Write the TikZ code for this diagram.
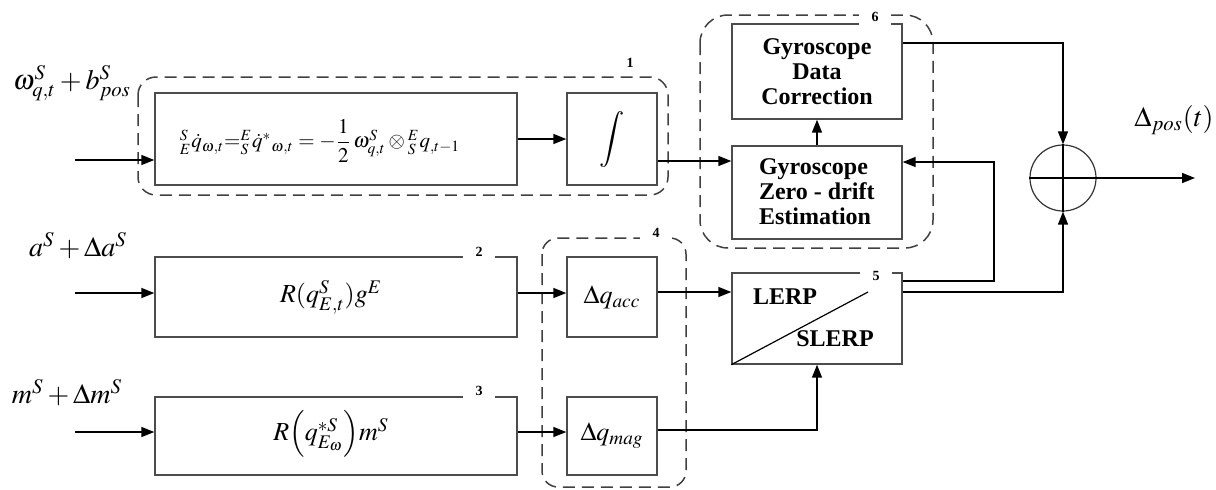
\documentclass[tikz,border=0pt]{standalone}
\usepackage{amsmath}
\usepackage{mathptmx}
\usepackage[no-math]{fontspec}
\setmainfont{Liberation Serif}
\usetikzlibrary{arrows.meta,calc}
\begin{document}
\begin{tikzpicture}[x=0.5pt,y=-0.5pt,
 blk/.style={draw=black!70, line width=0.7pt, rectangle, inner sep=0pt},
 grp/.style={draw=black!75, line width=0.75pt, dash pattern=on 6pt off 3.5pt},
 arr/.style={line width=0.75pt, -{Triangle[length=6.5pt,width=5pt]}},
 ln/.style={line width=0.6pt},
 tagw/.style={font=\bfseries\fontsize{7}{8}\selectfont, fill=white, inner sep=0pt, minimum width=16pt, minimum height=9pt},
 tagn/.style={font=\bfseries\fontsize{7}{8}\selectfont, inner sep=0pt},
 bt/.style={font=\bfseries\fontsize{12}{12.5}\selectfont},
 mt/.style={font=\fontsize{13}{15}\selectfont, inner sep=0pt},
 lt/.style={font=\fontsize{14}{16}\selectfont, inner sep=0pt}]
\useasboundingbox (0,0) rectangle (1216,489);

% dashed groups
\draw[grp, rounded corners=9pt] (138,77) rectangle (668,195);
\draw[grp, rounded corners=14pt] (700,15) rectangle (933,248);
\draw[grp, rounded corners=8pt] (542,238) rectangle (686,487);

% blocks
\node[blk, minimum width=181pt, minimum height=46pt] (f) at (336,139) {};
\node[mt, font=\fontsize{10.5}{12}\selectfont] (ftxt) at (320,141)
 {${}^{S}_{E}\dot q_{\omega,t}{=}{}^{E}_{S}\dot q^{*}{}_{\omega,t}=-\dfrac{1}{2}\,\omega^{S}_{q,t}\otimes{}^{E}_{S}q_{,t-1}$};
\node[blk, minimum width=45pt, minimum height=46pt, font=\fontsize{14}{16}\selectfont] (int) at (612,139) {$\displaystyle\int$};
\node[blk, minimum width=181pt, minimum height=40pt] (b2) at (336,297) {};
\node[mt] (b2t) at (331,297) {$R(q^{S}_{E,t})g^{E}$};
\node[blk, minimum width=181pt, minimum height=39pt] (b3) at (336,436) {};
\node[mt] (b3t) at (331,434) {$R\Bigl(q^{*S}_{E_\omega}\Bigr)m^{S}$};
\node[blk, minimum width=45pt, minimum height=40pt, font=\fontsize{13}{15}\selectfont] (acc) at (612,297) {$\Delta q_{acc}$};
\node[blk, minimum width=45pt, minimum height=39pt, font=\fontsize{13}{15}\selectfont] (mag) at (612,436) {$\Delta q_{mag}$};
\node[blk, minimum width=85pt, minimum height=47.5pt, bt, align=center] (gdc) at (817,71.5) {Gyroscope\\Data\\Correction};
\node[blk, minimum width=85pt, minimum height=46.5pt] (gze) at (817,192.5) {};
\node[bt, align=left, anchor=west] (gzet) at (752,192) {Gyroscope\\Zero - drift\\Estimation};
\node[blk, minimum width=85pt, minimum height=45.5pt] (lerp) at (817,318.5) {};
\draw[ln] (lerp.south west) -- (868,292);
\node[bt] (lt) at (785,297) {LERP};
\node[bt] (st) at (835,339) {SLERP};
\node[draw=black!80, line width=0.6pt, circle, minimum size=33pt, inner sep=0pt] (sum) at (1063,178) {};
\draw[ln] (sum.north) -- (sum.south) (sum.west) -- (sum.east);

% tags
\node[tagn] (t1) at (630,63) {1};
\node[tagw] (t2) at (479,252) {2};
\node[tagw] (t3) at (479,391) {3};
\node[tagw] (t4) at (656,233) {4};
\node[tagw] (t5) at (876,276) {5};
\node[tagw] (t6) at (875,17) {6};

% input / output labels
\node[lt] (l1) at (72,83) {$\omega^{S}_{q,t}+b^{S}_{pos}$};
\node[lt] (l2) at (78,246) {$a^{S}+\Delta a^{S}$};
\node[lt] (l3) at (67,393) {$m^{S}+\Delta m^{S}$};
\node[lt] (lo) at (1174,120) {$\Delta_{pos}(t)$};

% connectors
\coordinate (i1) at (75,160);
\draw[arr] (i1) -- (i1 -| f.west);
\draw[arr] (f.east) -- (int.west);
\coordinate (y1) at (0,161);
\draw[arr] (int.east |- y1) -- (gze.west |- y1);
\draw[arr] (gze.north) -- (gdc.south);
\coordinate (y43) at (0,43);
\draw[arr] (gdc.east |- y43) -| (sum.north);
\coordinate (c281) at (994,281);
\coordinate (c162) at (994,162);
\draw[arr] (lerp.east |- c281) -- (c281) -- (c162) -- (gze.east |- c162);
\coordinate (y292) at (0,292);
\draw[arr] (lerp.east |- y292) -| (sum.south);
\coordinate (out) at (1195,178);
\draw[arr] (sum.east) -- (out);
\coordinate (i2) at (75,293);
\draw[arr] (i2) -- (i2 -| b2.west);
\draw[arr] (b2.east |- i2) -- (acc.west |- i2);
\draw[arr] (acc.east |- y292) -- (lerp.west |- y292);
\coordinate (i3) at (75,432);
\draw[arr] (i3) -- (i3 -| b3.west);
\draw[arr] (b3.east |- i3) -- (mag.west |- i3);
\coordinate (y430) at (0,430);
\draw[arr] (mag.east |- y430) -| (lerp.south);
\end{tikzpicture}
\end{document}
